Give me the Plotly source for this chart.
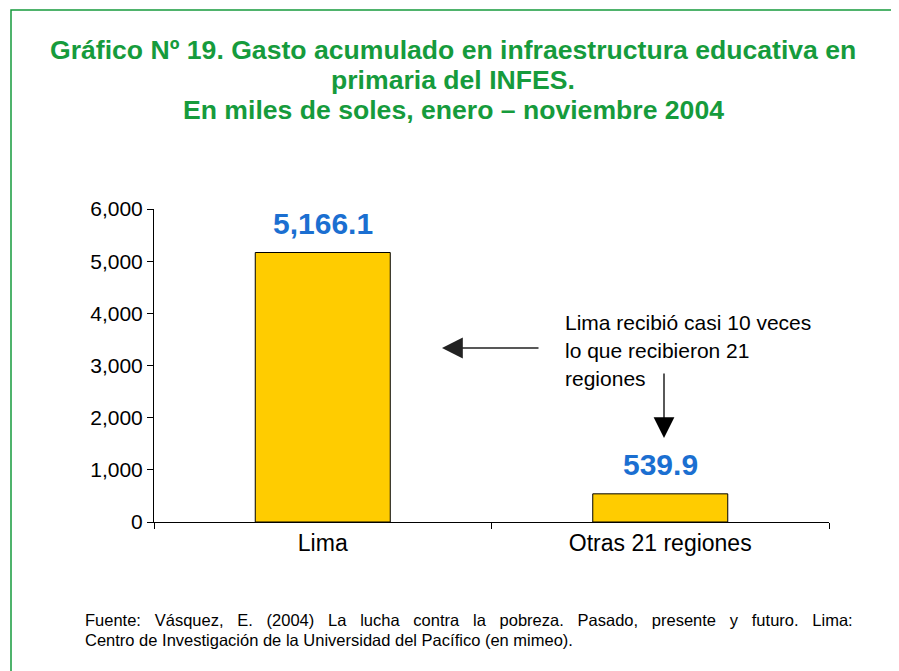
import plotly.graph_objects as go

categories = ["Lima", "Otras 21 regiones"]
values = [5166.1, 539.9]
value_labels = ["5,166.1", "539.9"]
y_ticks = [0, 1000, 2000, 3000, 4000, 5000, 6000]
y_tick_labels = ["0", "1,000", "2,000", "3,000", "4,000", "5,000", "6,000"]
title_lines = [
    "Gráfico Nº 19. Gasto acumulado en infraestructura educativa en",
    "primaria del INFES.",
    "En miles de soles, enero – noviembre 2004",
]
note_lines = [
    "Lima recibió casi 10 veces",
    "lo que recibieron 21",
    "regiones",
]
source_lines = [
    "Fuente: Vásquez, E. (2004) La lucha contra la pobreza. Pasado, presente y futuro. Lima:",
    "Centro de Investigación de la Universidad del Pacífico (en mimeo).",
]

OFF = 8  # page body margin
W, H = 899 - OFF, 671 - OFF
L, R, T, B = 154 - OFF, 829 - OFF, 209 - OFF, 522 - OFF
GREEN = "#169B3C"
BLUE = "#1B6FD1"
FONT = "Arial, Liberation Sans"

def px(x):
    return (x - OFF - L) / (R - L)

def py(y):
    return (B - (y - OFF)) / (B - T)

fig = go.Figure()
fig.add_trace(go.Bar(
    x=categories, y=values, width=0.40,
    marker=dict(color="#FFCC00", line=dict(color="black", width=1)),
    hoverinfo="skip",
))

ann = []
for c, v, t in zip(categories, values, value_labels):
    ann.append(dict(x=c, y=v, xref="x", yref="y", text=f"<b>{t}</b>", showarrow=False,
                    yanchor="bottom", yshift=11,
                    font=dict(family=FONT, size=30, color=BLUE)))

for i, line in enumerate(title_lines):
    ann.append(dict(x=px(453), y=py([50, 80, 110][i]), xref="paper", yref="paper",
                    text=f"<b>{line}</b>", showarrow=False, xanchor="center", yanchor="middle",
                    font=dict(family=FONT, size=26.6, color=GREEN)))

for i, line in enumerate(note_lines):
    ann.append(dict(x=px(563), y=py([322, 350, 378][i]), xref="paper", yref="paper",
                    text=line, showarrow=False, xanchor="left", yanchor="middle",
                    font=dict(family=FONT, size=21, color="black")))

# first source line is justified in the original: widen the word gaps
src_display = [" \u00a0\u00a0".join(source_lines[0].split(" ")), source_lines[1]]
for i, line in enumerate(src_display):
    ann.append(dict(x=px(83), y=py([620, 640][i]), xref="paper", yref="paper",
                    text=line, showarrow=False, xanchor="left", yanchor="middle",
                    font=dict(family=FONT, size=16.5, color="black")))

# arrows
ann.append(dict(x=px(442), y=py(348), xref="paper", yref="paper", text="",
                showarrow=True, ax=98, ay=0, arrowhead=2, arrowsize=3.2, arrowwidth=1.3,
                arrowcolor="#222222"))
ann.append(dict(x=px(664), y=py(438), xref="paper", yref="paper", text="",
                showarrow=True, ax=0, ay=-66, arrowhead=2, arrowsize=3.2, arrowwidth=1.3,
                arrowcolor="black"))

fig.update_layout(
    width=W, height=H,
    margin=dict(l=L, r=W - R, t=T, b=H - B),
    plot_bgcolor="white", paper_bgcolor="white",
    showlegend=False,
    annotations=ann,
    shapes=[dict(type="rect", xref="paper", yref="paper",
                 x0=px(11), x1=px(960), y0=py(740), y1=py(10),
                 line=dict(color=GREEN, width=1.5), fillcolor="rgba(0,0,0,0)", layer="below")],
    font=dict(family=FONT, color="black"),
)
fig.update_xaxes(
    showline=True, linecolor="black", linewidth=1,
    ticks="outside", tickson="boundaries", ticklen=6, tickcolor="black",
    tickfont=dict(size=23, color="black"), showgrid=False,
)
fig.update_yaxes(
    range=[0, 6000], tickvals=y_ticks, ticktext=y_tick_labels,
    showline=True, linecolor="black", linewidth=1,
    ticks="outside", ticklen=6, tickcolor="black",
    tickfont=dict(size=21, color="black"), showgrid=False, zeroline=False,
)

fig.write_html("out.html")
